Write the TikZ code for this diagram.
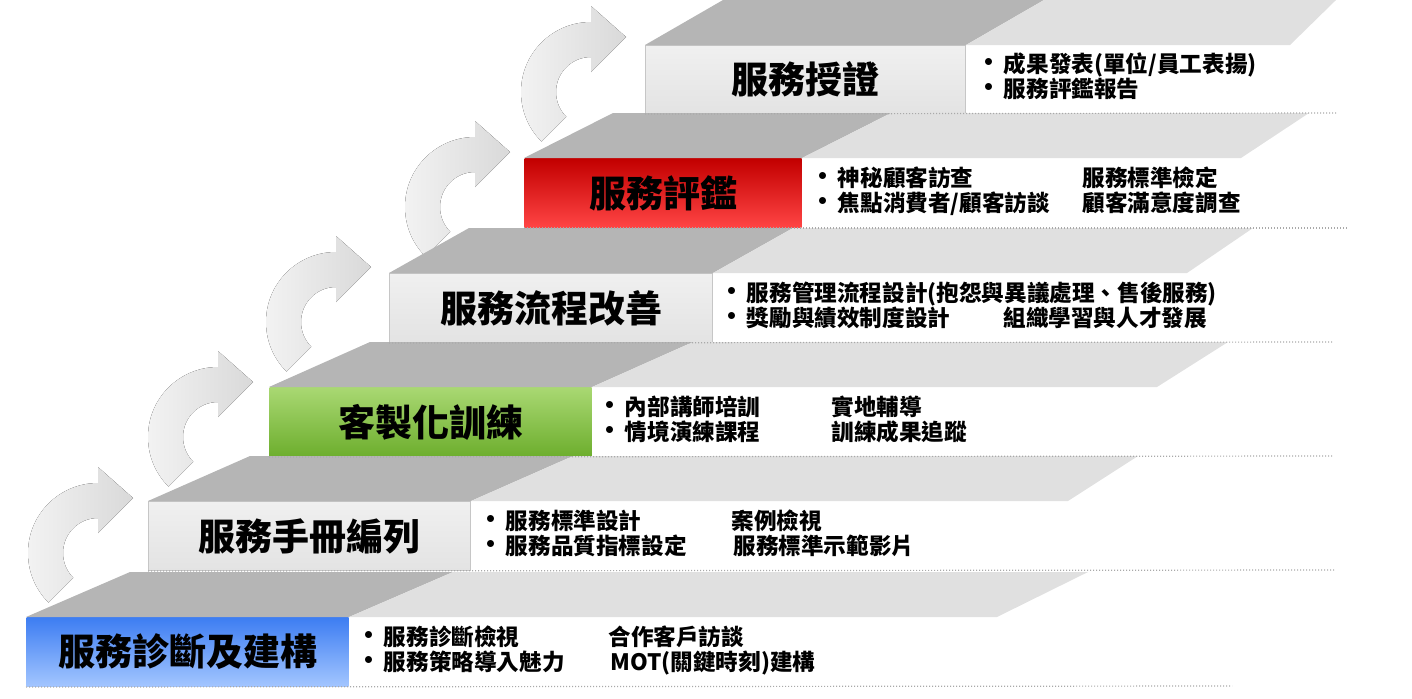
\documentclass[tikz,border=0pt]{standalone}
\usepackage{fontspec}
\usepackage{xcolor}
\usetikzlibrary{calc}
\setmainfont{Noto Sans CJK TC}
\definecolor{facedark}{HTML}{B5B5B5}
\definecolor{facelight}{HTML}{E0E0E0}
\definecolor{boxtop}{HTML}{F0F0F0}
\definecolor{boxbottom}{HTML}{E3E3E3}
\definecolor{boxedge}{HTML}{C6C6C6}
\definecolor{redtop}{HTML}{C20000}
\definecolor{redbottom}{HTML}{FF4545}
\definecolor{greentop}{HTML}{A9D872}
\definecolor{greenbottom}{HTML}{6DAE2E}
\definecolor{bluetop}{HTML}{3D7DF2}
\definecolor{bluebottom}{HTML}{A3C6FF}
\definecolor{arrowdark}{HTML}{D9D9D9}
\definecolor{arrowlight}{HTML}{F4F4F4}
\definecolor{dotgray}{HTML}{A9A9A9}

\newcommand{\itm}[1]{\makebox[9.75pt][l]{\hspace{-4.2pt}\raisebox{0.2pt}{\fontsize{12.5}{12.5}\selectfont•}}#1}

\begin{document}
\begin{tikzpicture}[x=0.5pt, y=-0.5pt,
    stepbox/.style={anchor=north west, minimum height=34.5pt, inner sep=0pt,
        font=\fontsize{18.5}{20}\selectfont\bfseries, draw=boxedge, line width=0.5pt,
        top color=boxtop, bottom color=boxbottom},
    itemtext/.style={anchor=base west, inner sep=0pt, font=\fontsize{11.3}{13}\selectfont\bfseries},
    topdark/.style={fill=facedark},
    toplight/.style={fill=facelight},
    stepline/.style={draw=dotgray, line width=0.6pt, dash pattern=on 0.6pt off 0.9pt},
    loop arrow/.style={left color=arrowlight, right color=arrowdark, draw=none}]
    \useasboundingbox (0,0) rectangle (1412,698);

    % curved arrows on the left
    \foreach \cx/\cy in {98/553, 218/437, 336/322, 475/207, 591/92}
        \fill[loop arrow] (\cx,\cy) ++(135:70) arc[start angle=135, end angle=270, radius=70]
            -- ++(0,-16) -- (\cx+35,\cy-55) -- (\cx,\cy-20) -- (\cx,\cy-35)
            arc[start angle=270, end angle=135, radius=35] -- cycle;

    % step boxes
    \node[stepbox, minimum width=161pt, draw=none, top color=bluetop, bottom color=bluebottom]
        (diag) at (26,617) {服務診斷及建構};
    \node[stepbox, minimum width=161pt] (manual) at (148,501) {服務手冊編列};
    \node[stepbox, minimum width=161pt, draw=none, top color=greentop, bottom color=greenbottom]
        (train) at (269,387) {客製化訓練};
    \node[stepbox, minimum width=161.5pt] (flow) at (389,273) {服務流程改善};
    \node[stepbox, minimum width=138.5pt, draw=none, top color=redtop, bottom color=redbottom]
        (review) at (524,158) {服務評鑑};
    \node[stepbox, minimum width=160pt, minimum height=34pt] (cert) at (645,45) {服務授證};

    % top faces
    \fill[topdark] (diag.north west) -- ++(104,-45) -- ($(diag.north east)+(104,-45)$) -- (diag.north east) -- cycle;
    \fill[toplight] (diag.north east) -- ($(diag.north east)+(104,-45)$) -- (1088,572) -- (997,617) -- cycle;
    \fill[topdark] (manual.north west) -- ++(102,-45) -- ($(manual.north east)+(102,-45)$) -- (manual.north east) -- cycle;
    \fill[toplight] (manual.north east) -- ($(manual.north east)+(102,-45)$) -- (1138,456) -- (1068,501) -- cycle;
    \fill[topdark] (train.north west) -- ++(101,-45) -- ($(train.north east)+(101,-45)$) -- (train.north east) -- cycle;
    \fill[toplight] (train.north east) -- ($(train.north east)+(101,-45)$) -- (1228,342) -- (1157,387) -- cycle;
    \fill[topdark] (flow.north west) -- ++(80,-45) -- ($(flow.north east)+(80,-45)$) -- (flow.north east) -- cycle;
    \fill[toplight] (flow.north east) -- ($(flow.north east)+(80,-45)$) -- (1253,228) -- (1187,273) -- cycle;
    \fill[topdark] (review.north west) -- ++(89,-45) -- ($(review.north east)+(89,-45)$) -- (review.north east) -- cycle;
    \fill[toplight] (review.north east) -- ($(review.north east)+(89,-45)$) -- (1309,113) -- (1241,158) -- cycle;
    \fill[topdark] (cert.north west) -- ++(78,-45) -- ($(cert.north east)+(78,-45)$) -- (cert.north east) -- cycle;
    \fill[toplight] (cert.north east) -- ($(cert.north east)+(78,-45)$) -- (1336,0) -- (1290,45) -- cycle;

    % dotted base lines
    \coordinate (diagend) at (1232,686);
    \coordinate (manualend) at (1335,570);
    \coordinate (trainend) at (1333,456);
    \coordinate (flowend) at (1333,342);
    \coordinate (reviewend) at (1348,228);
    \coordinate (certend) at (1336,113);
    \draw[stepline] (diag.south west) -- (diagend);
    \draw[stepline] (manual.south west) -- (manualend);
    \draw[stepline] (train.south west) -- (trainend);
    \draw[stepline] (flow.south west) -- (flowend);
    \draw[stepline] (review.south west) -- (reviewend);
    \draw[stepline] (cert.south west) -- (certend);

    % items
    \node[itemtext] (diag1) at (364,645) {\itm{服務診斷檢視}};
    \node[itemtext] (diag2) at (364,670) {\itm{服務策略導入魅力}};
    \node[itemtext] (diag3) at (608,645) {合作客戶訪談};
    \node[itemtext] (diag4) at (610,670) {MOT(關鍵時刻)建構};

    \node[itemtext] (manual1) at (486,529) {\itm{服務標準設計}};
    \node[itemtext] (manual2) at (486,554) {\itm{服務品質指標設定}};
    \node[itemtext] (manual3) at (731,529) {案例檢視};
    \node[itemtext] (manual4) at (733,554) {服務標準示範影片};

    \node[itemtext] (train1) at (605,415) {\itm{內部講師培訓}};
    \node[itemtext] (train2) at (605,440) {\itm{情境演練課程}};
    \node[itemtext] (train3) at (831,415) {實地輔導};
    \node[itemtext] (train4) at (831,440) {訓練成果追蹤};

    \node[itemtext] (flow1) at (727,301) {\itm{服務管理流程設計(抱怨與異議處理、售後服務)}};
    \node[itemtext] (flow2) at (727,326) {\itm{獎勵與績效制度設計}};
    \node[itemtext] (flow3) at (1003,326) {組織學習與人才發展};

    \node[itemtext] (review1) at (818,186) {\itm{神秘顧客訪查}};
    \node[itemtext] (review2) at (818,211) {\itm{焦點消費者/顧客訪談}};
    \node[itemtext] (review3) at (1082,186) {服務標準檢定};
    \node[itemtext] (review4) at (1082,211) {顧客滿意度調查};

    \node[itemtext] (cert1) at (984,72) {\itm{成果發表(單位/員工表揚)}};
    \node[itemtext] (cert2) at (984,97) {\itm{服務評鑑報告}};
\end{tikzpicture}
\end{document}
